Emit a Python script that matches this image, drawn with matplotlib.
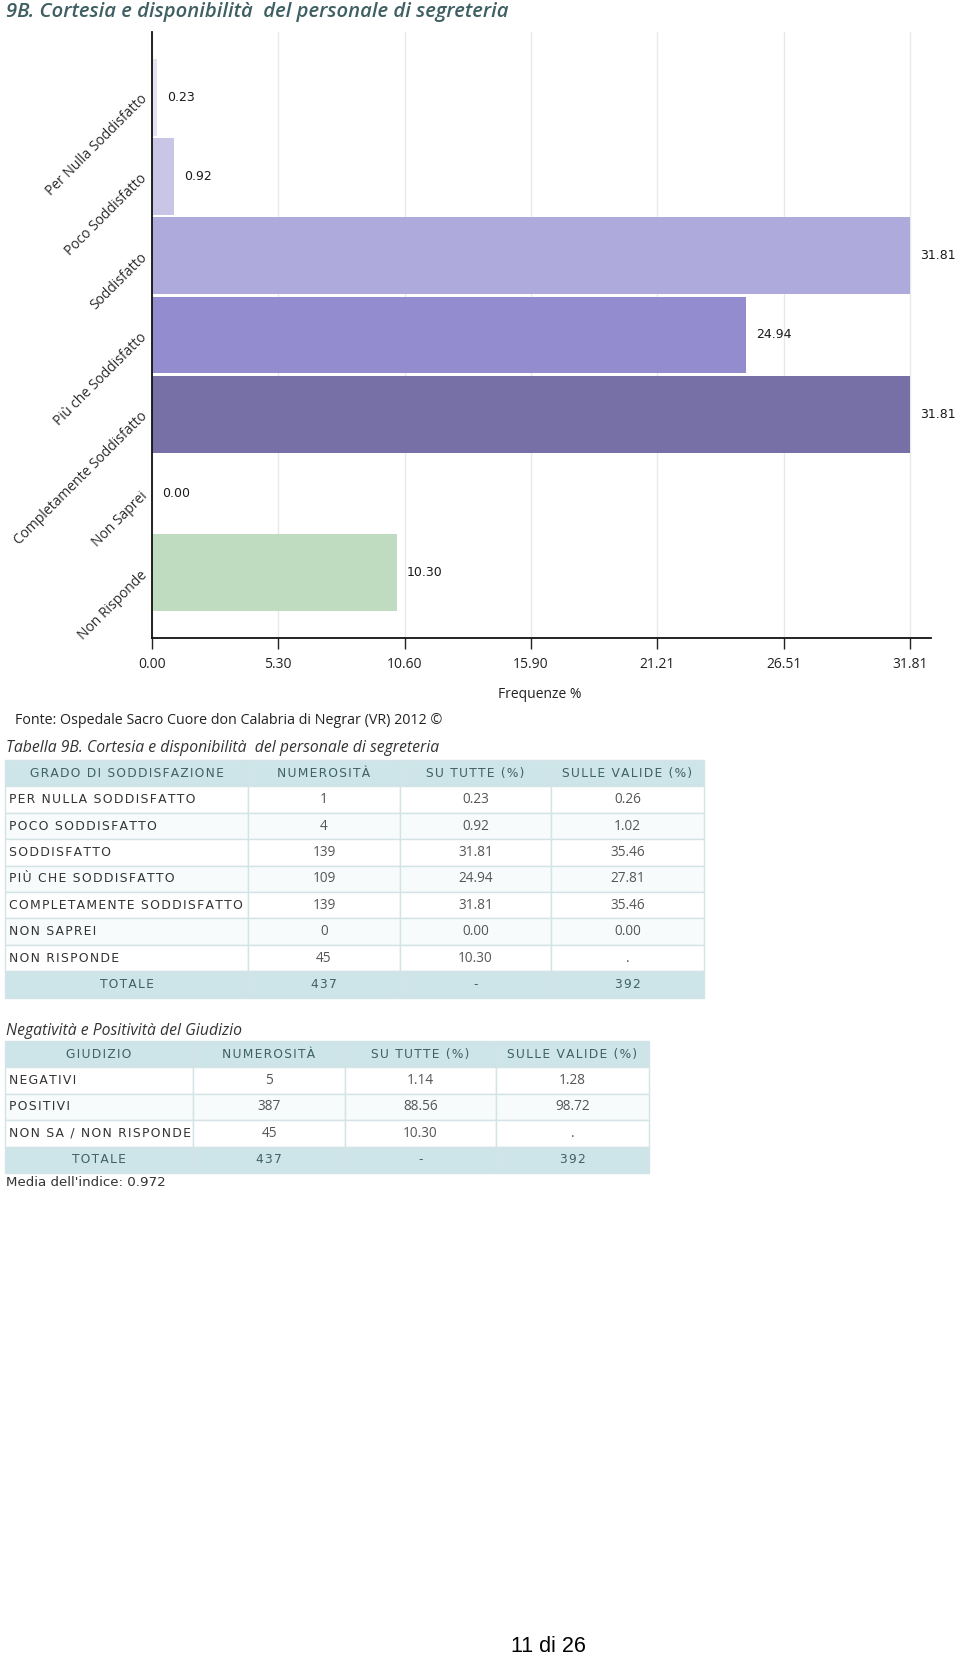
import matplotlib
matplotlib.use("Agg")
import matplotlib.pyplot as plt
from matplotlib.patches import Rectangle

W, H = 960, 1659

# --- dati del grafico ---
categories = ["Per Nulla Soddisfatto", "Poco Soddisfatto", "Soddisfatto",
              "Più che Soddisfatto", "Completamente Soddisfatto", "Non Saprei",
              "Non Risponde"]
freq = [0.23, 0.92, 31.81, 24.94, 31.81, 0.00, 10.30]
bar_colors = ["#e4e2f3", "#c8c5e6", "#aeaadc", "#938dd0", "#7670a7", "#ffffff", "#bfdcc0"]
xticks = [0.00, 5.30, 10.60, 15.90, 21.21, 26.51, 31.81]

# --- tabella 9B ---
t1_header = ["GRADO DI SODDISFAZIONE", "NUMEROSITÀ", "SU TUTTE (%)", "SULLE VALIDE (%)"]
t1_labels = ["PER NULLA SODDISFATTO", "POCO SODDISFATTO", "SODDISFATTO",
             "PIÙ CHE SODDISFATTO", "COMPLETAMENTE SODDISFATTO", "NON SAPREI",
             "NON RISPONDE"]
t1_n = ["1", "4", "139", "109", "139", "0", "45"]
t1_tutte = ["0.23", "0.92", "31.81", "24.94", "31.81", "0.00", "10.30"]
t1_valide = ["0.26", "1.02", "35.46", "27.81", "35.46", "0.00", "."]
t1_total = ["TOTALE", "437", "-", "392"]

# --- tabella giudizio ---
t2_header = ["GIUDIZIO", "NUMEROSITÀ", "SU TUTTE (%)", "SULLE VALIDE (%)"]
t2_labels = ["NEGATIVI", "POSITIVI", "NON SA / NON RISPONDE"]
t2_n = ["5", "387", "45"]
t2_tutte = ["1.14", "88.56", "10.30"]
t2_valide = ["1.28", "98.72", "."]
t2_total = ["TOTALE", "437", "-", "392"]


def spaced(s):
    # spaziatura tra le lettere come nell'originale
    return "\u200a".join(s)


fig = plt.figure(figsize=(W / 100, H / 100), dpi=100)

# grafico a barre orizzontali
left, right, top, bottom = 152, 931, 32, 638
ax = fig.add_axes([left / W, 1 - bottom / H, (right - left) / W, (bottom - top) / H])
ypos = list(range(len(categories)))
ax.barh(ypos, freq, height=0.97, color=bar_colors, zorder=2)
ax.set_xlim(0, 31.81 * (right - left) / (910 - left))
ax.set_ylim(len(categories) - 1 + 0.82, -0.82)
for y, v in zip(ypos, freq):
    ax.annotate(f"{v:.2f}", (v, y), xytext=(7, 0), textcoords="offset points",
                va="center", ha="left", fontsize=9, color="#1a1a1a",
                family="DejaVu Sans")
ax.set_xticks(xticks)
ax.set_xticklabels([f"{t:.2f}" for t in xticks], family="Open Sans",
                   fontsize=10, color="#222222")
ax.set_yticks(ypos)
ax.set_yticklabels(categories, rotation=45, ha="right", va="center",
                   rotation_mode="anchor", family="Open Sans", fontsize=10,
                   color="#2a2a2a")
ax.tick_params(axis="y", length=0, pad=5)
ax.tick_params(axis="x", length=8, width=1, color="#222222", pad=6)
ax.xaxis.grid(True, color="#e9e9e9", linewidth=1, zorder=0)
ax.set_axisbelow(True)
for s in ["top", "right"]:
    ax.spines[s].set_visible(False)
for s in ["left", "bottom"]:
    ax.spines[s].set_linewidth(1.3)
    ax.spines[s].set_color("#111111")

# overlay in coordinate pixel per testi e tabelle
ov = fig.add_axes([0, 0, 1, 1])
ov.set_xlim(0, W)
ov.set_ylim(H, 0)
ov.axis("off")
ov.patch.set_alpha(0)

ov.text(6, 12, "9B. Cortesia e disponibilità  del personale di segreteria",
        fontsize=14.6, style="italic", weight="semibold", color="#3f5f62",
        family="Open Sans", va="center", ha="left")
ov.text(540, 695, "Frequenze %", fontsize=10, family="Open Sans",
        color="#222222", ha="center", va="center")
ov.text(15, 720, "Fonte: Ospedale Sacro Cuore don Calabria di Negrar (VR) 2012 ©",
        fontsize=10.3, family="Open Sans", color="#222222", ha="left", va="center")

head_bg = "#cde5e9"
line_c = "#d3e3e6"
head_txt = "#3f6064"


def draw_table(caption, cap_y, top_y, cols, header, labels, n, tutte, valide, total):
    row_h = 26.4
    ov.text(6, cap_y, caption, fontsize=11.3, style="italic", family="Open Sans",
            color="#333333", ha="left", va="center")
    rows = [(lab, a, b, c) for lab, a, b, c in zip(labels, n, tutte, valide)]
    all_rows = [header] + rows + [total]
    for i, row in enumerate(all_rows):
        y0 = top_y + i * row_h
        is_head = i == 0 or i == len(all_rows) - 1
        if is_head:
            bg = head_bg
        else:
            bg = "#ffffff" if i % 2 == 1 else "#f8fbfb"
        for j in range(4):
            ov.add_patch(Rectangle((cols[j], y0), cols[j + 1] - cols[j], row_h,
                                   facecolor=bg, edgecolor=line_c, linewidth=1))
            cx = (cols[j] + cols[j + 1]) / 2
            cy = y0 + row_h / 2
            if is_head:
                ov.text(cx, cy, spaced(row[j]), fontsize=8.8, family="DejaVu Sans",
                        color=head_txt, ha="center", va="center")
            elif j == 0:
                ov.text(cols[0] + 4, cy, spaced(row[j]), fontsize=8.9,
                        family="DejaVu Sans", color="#333333", ha="left", va="center")
            else:
                ov.text(cx, cy, row[j], fontsize=9.8, family="Open Sans",
                        color="#555555", ha="center", va="center")


draw_table("Tabella 9B. Cortesia e disponibilità  del personale di segreteria",
           748, 760, [5, 248, 400, 551, 704], t1_header, t1_labels, t1_n,
           t1_tutte, t1_valide, t1_total)
draw_table("Negatività e Positività del Giudizio", 1031, 1041,
           [5, 193, 345, 496, 649], t2_header, t2_labels, t2_n, t2_tutte,
           t2_valide, t2_total)

ov.text(6, 1183, "Media dell'indice: 0.972", fontsize=9.6, family="DejaVu Sans",
        color="#333333", ha="left", va="center")
ov.text(548, 1647, "11 di 26", fontsize=15.5, family="Liberation Sans",
        color="#000000", ha="center", va="center")

fig.savefig("out.png", dpi=100)
